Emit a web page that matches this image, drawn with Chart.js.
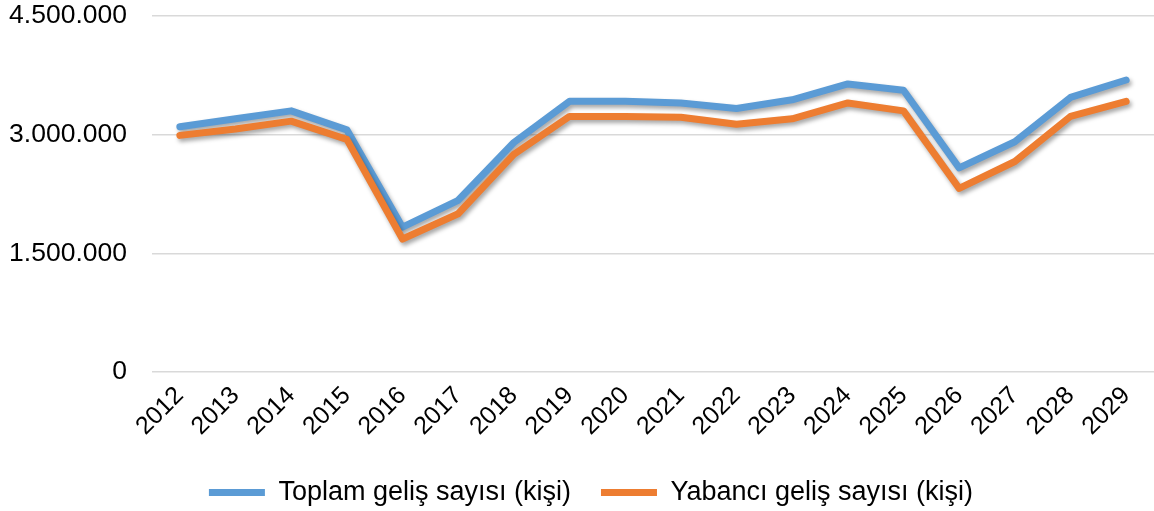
<!DOCTYPE html>
<html><head><meta charset="utf-8">
<script src="https://cdn.jsdelivr.net/npm/chart.js@4/dist/chart.umd.min.js"></script>
<style>html,body{margin:0;padding:0;background:#fff}#w{width:1154px;height:511px}</style>
</head><body><div id="w"><canvas id="c"></canvas></div>
<script>
const years = ["2012","2013","2014","2015","2016","2017","2018","2019","2020","2021","2022","2023","2024","2025","2026","2027","2028","2029"];
const toplam = [3100000,3200000,3300000,3060000,1830000,2170000,2900000,3420000,3420000,3400000,3330000,3440000,3640000,3560000,2580000,2910000,3470000,3690000];
const yabanci = [2990000,3070000,3170000,2940000,1680000,2000000,2750000,3230000,3230000,3220000,3130000,3200000,3400000,3300000,2320000,2660000,3230000,3420000];
const seriesNames = ["Toplam geliş sayısı (kişi)","Yabancı geliş sayısı (kişi)"];
const yTicks = [0,1500000,3000000,4500000];

const fam = '"Liberation Sans", Arial, sans-serif';
const fmt = v => String(v).replace(/\B(?=(\d{3})+(?!\d))/g, '.');

const shadowPlugin = {
  id:'shadow',
  beforeDatasetDraw(chart){ const c=chart.ctx; c.save(); c.shadowColor='rgba(0,0,0,0.35)'; c.shadowBlur=4; c.shadowOffsetX=2; c.shadowOffsetY=3; },
  afterDatasetDraw(chart){ chart.ctx.restore(); }
};
const legendShift = {
  id:'legendShift',
  afterLayout(chart){ const l = chart.legend; if (l) { l.left += 14; l.right += 14; } }
};

new Chart(document.getElementById('c'), {
  type:'line',
  data:{
    labels: years,
    datasets:[
      {label:seriesNames[0], data:toplam, borderColor:'#5B9BD5', backgroundColor:'#5B9BD5', order:1},
      {label:seriesNames[1], data:yabanci, borderColor:'#ED7D31', backgroundColor:'#ED7D31', order:0}
    ]
  },
  options:{
    responsive:true, maintainAspectRatio:false, animation:false,
    layout:{padding:{top:4,right:0,left:0,bottom:-5}},
    elements:{
      line:{borderWidth:7, tension:0, borderCapStyle:'round', borderJoinStyle:'round', fill:false},
      point:{radius:0, hoverRadius:0}
    },
    plugins:{
      tooltip:{enabled:false},
      legend:{
        position:'bottom',
        labels:{
          boxWidth:56, boxHeight:7, padding:30,
          color:'#000', font:{family:fam, size:27},
          sort:(a,b)=>a.datasetIndex-b.datasetIndex,
          generateLabels(chart){
            return Chart.defaults.plugins.legend.labels.generateLabels(chart).map(l=>Object.assign(l,{lineWidth:0}));
          }
        }
      }
    },
    scales:{
      x:{
        offset:true,
        grid:{display:false},
        border:{display:false},
        afterFit(s){ s.height = 77; },
        ticks:{color:'#000', font:{family:fam,size:25}, minRotation:45, maxRotation:45, padding:1, autoSkip:false}
      },
      y:{
        min:0, max:4500000,
        afterBuildTicks(s){ s.ticks = yTicks.map(v=>({value:v})); },
        afterFit(s){ s.width = 152; },
        grid:{color:'#d9d9d9', lineWidth:1.5, drawTicks:true, tickLength:25, tickColor:'rgba(0,0,0,0)'},
        border:{display:false},
        ticks:{color:'#000', font:{family:fam,size:26.5}, padding:0, callback:v=>fmt(v)}
      }
    }
  },
  plugins:[shadowPlugin, legendShift]
});
</script></body></html>
